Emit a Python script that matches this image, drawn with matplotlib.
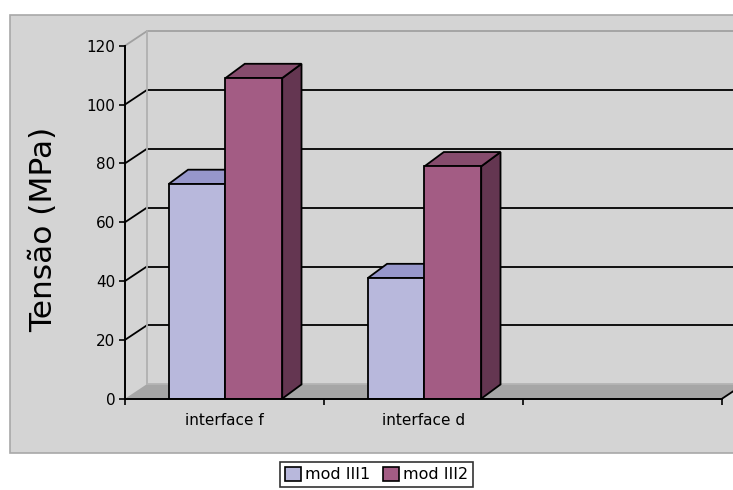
import matplotlib
matplotlib.use('Agg')
import matplotlib.pyplot as plt
from matplotlib.patches import Polygon, Rectangle, Patch

categories = ['interface f', 'interface d', '']
series_names = ['mod III1', 'mod III2']
mod_iii1 = [73, 41]
mod_iii2 = [109, 79]
y_ticks = [0, 20, 40, 60, 80, 100, 120]

# face colours: front, top, side
face_colors = {
    'mod III1': ('#b8b8dc', '#9797cb', '#7a7aa8'),
    'mod III2': ('#a35c84', '#864c6d', '#643651'),
}

# oblique offset of the back wall and of the bar depth (data units)
WALL_DX, WALL_DY = 0.109, 4.9
BAR_DX, BAR_DY = 0.097, 4.85
BAR_W = 0.285
BAR_START = 0.22
LW = 1.3

W, H = 733, 490
fig = plt.figure(figsize=(W / 100, H / 100), dpi=100)
fig.patch.set_facecolor('white')

# chart area background
fig.add_artist(Rectangle((10 / W, (H - 452.7) / H), 1.0, (452.7 - 14.7) / H,
                         transform=fig.transFigure, facecolor='#d4d4d4',
                         edgecolor='#a8a8a8', linewidth=1.2, zorder=0))

ax = fig.add_axes([125 / W, (H - 398.7) / H, (722 - 125) / W, 353 / H])
ax.patch.set_visible(False)
ax.set_xlim(0, len(categories))
ax.set_ylim(0, 120)
ymax = y_ticks[-1]
n = len(categories)

# side wall + back wall edges and gridlines
for v in y_ticks[1:]:
    c = '#a0a0a0' if v == ymax else 'black'
    ax.plot([0, WALL_DX], [v, v + WALL_DY], color=c, lw=LW, clip_on=False, zorder=1)
    ax.plot([WALL_DX, n + 0.5], [v + WALL_DY, v + WALL_DY], color=c, lw=LW,
            clip_on=False, zorder=1)
ax.plot([WALL_DX, WALL_DX], [WALL_DY, ymax + WALL_DY], color='#b0b0b0', lw=LW,
        clip_on=False, zorder=1)

# floor
floor = Polygon([(0, 0), (n, 0), (n + WALL_DX, WALL_DY), (WALL_DX, WALL_DY)],
                closed=True, facecolor='#a6a6a6', edgecolor='none', clip_on=False, zorder=2)
ax.add_patch(floor)
ax.plot([WALL_DX, n + WALL_DX], [WALL_DY, WALL_DY], color='#b4b4b4', lw=LW,
        clip_on=False, zorder=2)
ax.plot([n, n + WALL_DX], [0, WALL_DY], color='black', lw=LW, clip_on=False, zorder=3)

# 3d columns
z = 4
for i in range(len(mod_iii1)):
    for j, (name, vals) in enumerate(zip(series_names, [mod_iii1, mod_iii2])):
        front, top, side = face_colors[name]
        x = i + BAR_START + j * BAR_W
        v = vals[i]
        ax.add_patch(Polygon([(x + BAR_W, 0), (x + BAR_W + BAR_DX, BAR_DY),
                              (x + BAR_W + BAR_DX, v + BAR_DY), (x + BAR_W, v)],
                             closed=True, facecolor=side, edgecolor='black',
                             lw=LW, clip_on=False, zorder=z))
        ax.add_patch(Polygon([(x, v), (x + BAR_W, v), (x + BAR_W + BAR_DX, v + BAR_DY),
                              (x + BAR_DX, v + BAR_DY)],
                             closed=True, facecolor=top, edgecolor='black',
                             lw=LW, clip_on=False, zorder=z))
        ax.bar(x, v, BAR_W, align='edge', color=front, edgecolor='black',
               linewidth=LW, zorder=z + 1)
        z += 2

# axes lines and ticks
for s in ['top', 'right']:
    ax.spines[s].set_visible(False)
ax.spines['left'].set_linewidth(1.4)
ax.spines['bottom'].set_linewidth(1.4)
ax.spines['left'].set_zorder(20)
ax.spines['bottom'].set_zorder(20)
ax.set_yticks(y_ticks)
ax.tick_params(axis='y', direction='out', length=4.3, width=1.2, pad=2.8, labelsize=11)
ax.set_xticks(range(n + 1))
ax.set_xticklabels([])
ax.tick_params(axis='x', which='major', direction='out', length=4.5, width=1.2)
ax.set_xticks([i + 0.5 for i in range(n)], minor=True)
ax.set_xticklabels(categories, minor=True)
ax.tick_params(axis='x', which='minor', length=0, pad=10, labelsize=11)

fig.text(44 / W, 1 - 229.5 / H, 'Tensão (MPa)', rotation=90, fontsize=22.5,
         ha='center', va='center')

handles = [Patch(facecolor=face_colors[s][0], edgecolor='black', linewidth=1.2)
           for s in series_names]
leg = fig.legend(handles, series_names, loc='center', bbox_to_anchor=(376.5 / W, 1 - 474.5 / H),
                 ncol=2, fontsize=11.5, frameon=True, fancybox=False, handlelength=1.0,
                 handleheight=1.0, handletextpad=0.25, columnspacing=0.8,
                 borderpad=0.3, borderaxespad=0)
leg.get_frame().set_edgecolor('black')
leg.get_frame().set_linewidth(1.2)

fig.savefig('out.png', dpi=100)
